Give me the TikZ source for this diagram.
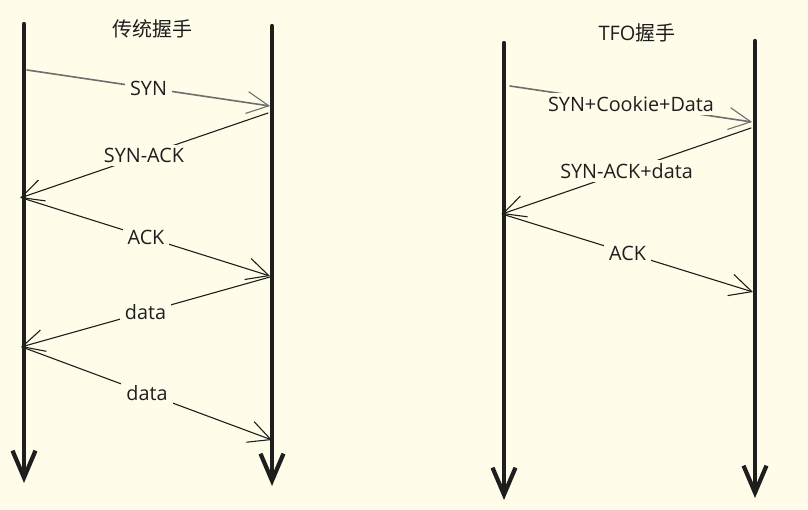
\documentclass[tikz,border=0pt]{standalone}
\usepackage{fontspec}
\setmainfont{Open Sans}
\newfontfamily\cjkfont{Noto Sans CJK SC}
\usepackage{tikz}
\usetikzlibrary{arrows.meta}
\definecolor{paper}{HTML}{FFFDE9}
\definecolor{ink}{HTML}{1E1E1E}
\definecolor{pencil}{HTML}{6E6E6E}

\begin{document}
\begin{tikzpicture}[line cap=round,line join=round,x=1pt,y=-1pt,
  life/.style={line width=4.2pt,draw=ink,-{Straight Barb[length=27pt,width=23pt,line width=4.2pt]}},
  msg/.style={line width=1.1pt,draw=ink,-{Straight Barb[length=22pt,width=22pt,line width=1.1pt]}},
  first/.style={msg,draw=pencil,line width=1.6pt},
  lbl/.style={fill=paper,text=ink,inner xsep=5pt,inner ysep=3pt,font=\fontsize{19.8}{21}\selectfont},
  title/.style={text=ink,font=\fontsize{20}{22}\selectfont}]
\fill[paper] (0,0) rectangle (808,509);
\useasboundingbox (0,0) rectangle (808,509);
% traditional handshake
\coordinate (cTop) at (24,24);
\coordinate (cEnd) at (24,483);
\coordinate (sTop) at (272,26);
\coordinate (sEnd) at (272,486);
\node[title] (oldTitle) at (152,29) {\cjkfont 传统握手};
\draw[life] (cTop) -- (cEnd);
\draw[life] (sTop) -- (sEnd);
\coordinate (c1) at (27,70);
\coordinate (s1) at (270,106);
\coordinate (s2) at (268,113);
\coordinate (c2) at (20,198);
\coordinate (c3) at (22,198);
\coordinate (s3) at (270,276);
\coordinate (s4) at (270,277);
\coordinate (c4) at (21,347);
\coordinate (c5) at (22,347);
\coordinate (s5) at (272,440);
\draw[first] (c1) -- node[lbl] (synLbl) {SYN} (s1);
\draw[msg] (s2) -- node[lbl,pos=0.5] (synackLbl) {SYN-ACK} (c2);
\draw[msg] (c3) -- node[lbl] (ackLbl) {ACK} (s3);
\draw[msg] (s4) -- node[lbl] (dataLbl) {data} (c4);
\draw[msg] (c5) -- node[lbl] (dataLblB) {data} (s5);
% TFO handshake
\coordinate (tcTop) at (504,43);
\coordinate (tcEnd) at (504,500);
\coordinate (tsTop) at (755,41);
\coordinate (tsEnd) at (755,498);
\node[title] (tfoTitle) at (637,33) {TFO\cjkfont 握手};
\draw[life] (tcTop) -- (tcEnd);
\draw[life] (tsTop) -- (tsEnd);
\coordinate (tc1) at (510,86);
\coordinate (ts1) at (752,122);
\coordinate (ts2) at (751,128);
\coordinate (tc2) at (502,214);
\coordinate (tc3) at (502,214);
\coordinate (ts3) at (753,292);
\draw[first] (tc1) -- node[lbl] (tfoSynLbl) {SYN+Cookie+Data} (ts1);
\draw[msg] (ts2) -- node[lbl] (tfoSynackLbl) {SYN-ACK+data} (tc2);
\draw[msg] (tc3) -- node[lbl] (tfoAckLbl) {ACK} (ts3);
\end{tikzpicture}
\end{document}
